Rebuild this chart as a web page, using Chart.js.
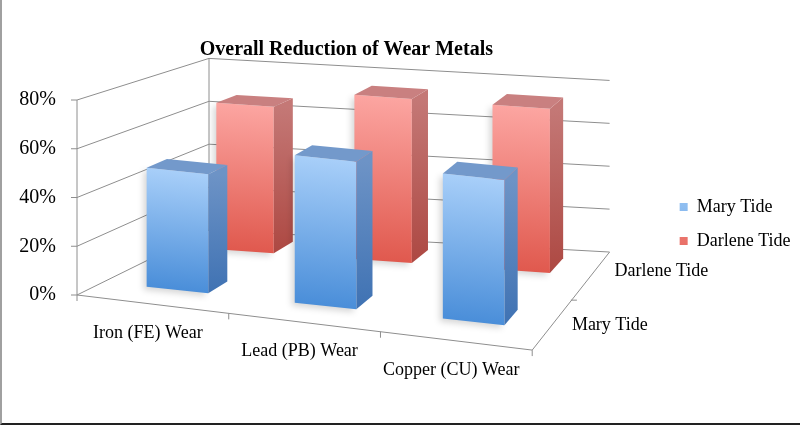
<!DOCTYPE html>
<html>
<head>
<meta charset="utf-8">
<script src="https://cdn.jsdelivr.net/npm/chart.js@4.4.1/dist/chart.umd.min.js"></script>
<style>
  html, body { margin: 0; padding: 0; background: #fff; }
  #wrap { position: relative; width: 800px; height: 425px; box-sizing: border-box;
          border-left: 2px solid #a0a0a0; border-bottom: 2px solid #222; }
</style>
</head>
<body>
<div id="wrap"><canvas id="chart"></canvas></div>
<script>
// values
const categories = ["Iron (FE) Wear", "Lead (PB) Wear", "Copper (CU) Wear"];
const seriesNames = ["Mary Tide", "Darlene Tide"];
const maryTide = [50, 62, 61];
const darleneTide = [66, 74, 74];
const yTicks = [0, 20, 40, 60, 80];

const FONT = "'Liberation Serif', serif";
const LINE = "#8e8e8e";

// front / side / top colours, light -> dark
const blue = { front: ["#a8cff9", "#6fa6e8", "#4a8ed9"], side: ["#6d93c6", "#3f72b3"], top: "#7399cb" };
const red = { front: ["#fca5a1", "#f08078", "#e0594e"], side: ["#c47876", "#ad4842"], top: "#c98080" };

// cheap perspective: depth z runs 0 (front edge) .. 1 (back wall)
const PERSP = { dx: 132, dy: -65, shrink: 0.12, kFront: 0.121, kBack: 0.055 };
const rowDepth = [0.2, 0.75];   // Mary row, Darlene row
const barDepth = 0.16;

function persp(chart, z) {
  const F = { x: chart.scales.x.getPixelForValue(-0.5), y: chart.scales.y.getPixelForValue(0) };
  const s = 1 - PERSP.shrink * z;
  const k = PERSP.kFront + (PERSP.kBack - PERSP.kFront) * z;
  return { F, s, k, ox: PERSP.dx * z, oy: PERSP.dy * z };
}
function project(chart, x, y, z) {
  const p = persp(chart, z);
  return {
    x: p.F.x + p.ox + p.s * (x - p.F.x),
    y: p.F.y + p.oy + p.s * (y - p.F.y) + p.k * p.s * (x - p.F.x)
  };
}

function frontFill(pal) {
  return (ctx) => {
    const c = ctx.chart;
    if (ctx.type !== "data" || !c.chartArea || !ctx.parsed) return pal.front[1];
    const sc = c.scales.y;
    const top = sc.getPixelForValue(ctx.parsed.y);
    const bot = sc.getPixelForValue(0);
    if (!isFinite(top) || !isFinite(bot)) return pal.front[1];
    const g = c.ctx.createLinearGradient(0, top, 0, bot);
    g.addColorStop(0, pal.front[0]);
    g.addColorStop(1, pal.front[2]);
    return g;
  };
}

function line(ctx, a, b) {
  ctx.moveTo(a.x, a.y);
  ctx.lineTo(b.x, b.y);
}

const fake3d = {
  id: "fake3d",
  beforeDatasetsDraw(chart) {
    const { ctx, scales } = chart;
    const x0 = scales.x.getPixelForValue(-0.5);
    const x1 = scales.x.getPixelForValue(categories.length - 0.5);
    const y = (v) => scales.y.getPixelForValue(v);
    const P = (x, yy, z) => project(chart, x, yy, z);
    const top = yTicks[yTicks.length - 1];
    ctx.save();
    ctx.strokeStyle = LINE;
    ctx.lineWidth = 1;
    ctx.beginPath();
    yTicks.forEach((v) => {
      line(ctx, P(x0, y(v), 0), P(x0, y(v), 1));          // left wall
      line(ctx, P(x0, y(v), 1), P(x1, y(v), 1));          // back wall
      line(ctx, { x: x0 - 6, y: y(v) }, { x: x0, y: y(v) });
    });
    line(ctx, P(x0, y(0), 0), P(x0, y(top), 0));
    line(ctx, P(x0, y(0), 1), P(x0, y(top), 1));
    // floor
    line(ctx, P(x0, y(0), 0), P(x1, y(0), 0));
    line(ctx, P(x1, y(0), 0), P(x1, y(0), 1));
    for (let i = 0; i <= categories.length; i++) {
      const a = P(scales.x.getPixelForValue(i - 0.5), y(0), 0);
      line(ctx, a, { x: a.x, y: a.y + 6 });
    }
    const m = P(x1, y(0), 0.5);
    line(ctx, m, { x: m.x + 6, y: m.y });
    ctx.stroke();
    ctx.restore();
  },
  beforeDatasetDraw(chart, args) {
    const p = persp(chart, rowDepth[args.index]);
    const ctx = chart.ctx;
    ctx.save();
    ctx.transform(p.s, p.k * p.s, 0, p.s,
      p.F.x + p.ox - p.s * p.F.x,
      p.F.y + p.oy - p.s * p.F.y - p.k * p.s * p.F.x);
    ctx.shadowColor = "rgba(0,0,0,0.16)";
    ctx.shadowBlur = 6;
    ctx.shadowOffsetX = -3;
    ctx.shadowOffsetY = 3;
  },
  afterDatasetDraw(chart, args) {
    const { ctx } = chart;
    ctx.restore();
    const pal = args.index === 0 ? blue : red;
    const z = rowDepth[args.index], z2 = z + barDepth;
    const P = (x, yy, zz) => project(chart, x, yy, zz);
    ctx.save();
    args.meta.data.forEach((bar) => {
      const { x, y, base, width } = bar.getProps(["x", "y", "base", "width"], true);
      const l = x - width / 2, r = x + width / 2;
      const a = P(r, y, z), b = P(r, y, z2), c = P(r, base, z2), d = P(r, base, z);
      const g = ctx.createLinearGradient(0, a.y, 0, d.y);
      g.addColorStop(0, pal.side[0]);
      g.addColorStop(1, pal.side[1]);
      ctx.fillStyle = g;
      ctx.beginPath();
      ctx.moveTo(a.x, a.y); ctx.lineTo(b.x, b.y); ctx.lineTo(c.x, c.y); ctx.lineTo(d.x, d.y);
      ctx.closePath();
      ctx.fill();
      const e = P(l, y, z), f = P(l, y, z2);
      ctx.fillStyle = pal.top;
      ctx.beginPath();
      ctx.moveTo(e.x, e.y); ctx.lineTo(f.x, f.y); ctx.lineTo(b.x, b.y); ctx.lineTo(a.x, a.y);
      ctx.closePath();
      ctx.fill();
    });
    ctx.restore();
  },
  afterDraw(chart) {
    const { ctx, scales } = chart;
    const x1 = scales.x.getPixelForValue(categories.length - 0.5);
    const y0 = scales.y.getPixelForValue(0);
    ctx.save();
    ctx.font = "18px " + FONT;
    ctx.fillStyle = "#000";
    ctx.textBaseline = "middle";
    // category names under the tilted front edge
    ctx.textAlign = "center";
    categories.forEach((name, i) => {
      const p = project(chart, scales.x.getPixelForValue(i), y0, 0);
      ctx.fillText(name, p.x - 5, p.y + 29);
    });
    // series names along the right edge of the floor
    ctx.textAlign = "left";
    seriesNames.forEach((name, i) => {
      const p = project(chart, x1, y0, rowDepth[i] + barDepth / 2);
      ctx.fillText(name, p.x + 18, p.y + 3);
    });
    ctx.restore();
  }
};

new Chart(document.getElementById("chart"), {
  type: "bar",
  data: {
    datasets: [
      { label: seriesNames[0], data: maryTide.map((v, i) => ({ x: i, y: v })), order: 1,
        backgroundColor: frontFill(blue) },
      { label: seriesNames[1], data: darleneTide.map((v, i) => ({ x: i, y: v })), order: 2,
        backgroundColor: frontFill(red) }
    ]
  },
  options: {
    responsive: true,
    maintainAspectRatio: false,
    animation: false,
    layout: { padding: { top: 38, bottom: 33, right: 4 } },
    datasets: { bar: { grouped: false, clip: false, categoryPercentage: 0.8,
                       barPercentage: 0.52, borderWidth: 0, inflateAmount: 0 } },
    scales: {
      x: {
        type: "linear", min: -0.5, max: 3.05, offset: false,
        afterBuildTicks: (s) => { s.ticks = categories.map((c, i) => ({ value: i })); },
        afterFit: (s) => { s.height = 95; },
        grid: { display: false, drawTicks: false }, border: { display: false },
        ticks: { display: false }
      },
      y: {
        position: "left", min: 0, max: 80,
        afterBuildTicks: (s) => { s.ticks = yTicks.map((v) => ({ value: v })); },
        afterFit: (s) => { s.width = 75; },
        grid: { display: false, drawTicks: false }, border: { display: false },
        ticks: { font: { family: FONT, size: 20 }, color: "#000", padding: 21,
                 callback: (v) => v + "%" }
      },
      yR: {
        position: "right", min: 0, max: 1,
        afterFit: (s) => { s.width = 48; },
        grid: { display: false, drawTicks: false }, border: { display: false },
        ticks: { display: false }
      }
    },
    plugins: {
      title: {
        display: true, text: "Overall Reduction of Wear Metals", fullSize: false,
        color: "#000", font: { family: FONT, size: 20, weight: "bold" },
        padding: { top: 0, bottom: 38 }
      },
      legend: {
        position: "right",
        title: { display: true, text: " ", font: { size: 10 }, padding: { top: 8, bottom: 0 } },
        labels: { font: { family: FONT, size: 18 }, color: "#000",
                  boxWidth: 8, boxHeight: 8, padding: 16 }
      },
      tooltip: { enabled: false }
    }
  },
  plugins: [fake3d]
});
</script>
</body>
</html>
